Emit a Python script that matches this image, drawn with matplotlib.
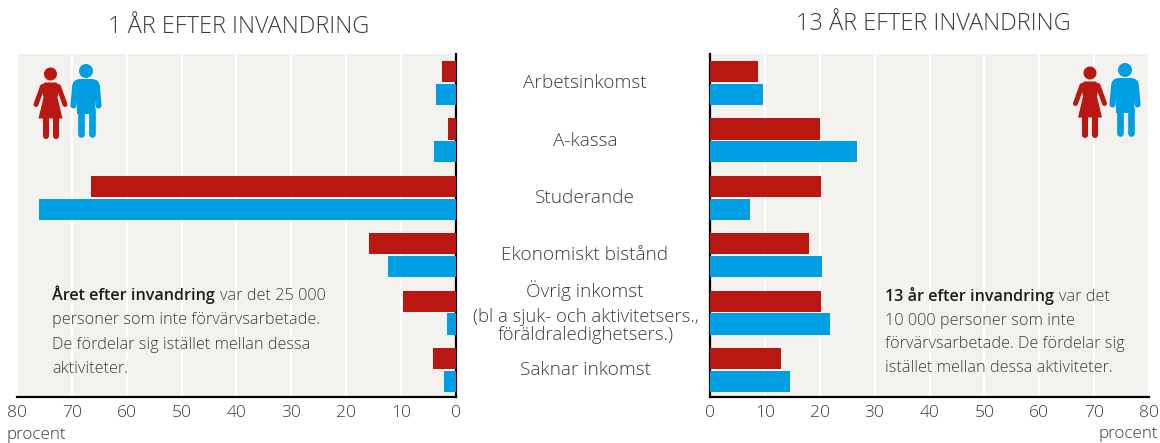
import matplotlib
matplotlib.use('Agg')
import matplotlib.pyplot as plt
from matplotlib.patches import Circle, FancyBboxPatch, Polygon

categories = ['Arbetsinkomst', 'A-kassa', 'Studerande', 'Ekonomiskt bistånd',
              'Övrig inkomst\n(bl a sjuk- och aktivitetsers.,\nföräldraledighetsers.)', 'Saknar inkomst']
women_1 = [2.6, 1.5, 66.5, 15.8, 9.7, 4.2]
men_1 = [3.6, 4.0, 76.0, 12.4, 1.6, 2.2]
women_13 = [8.8, 20.0, 20.2, 18.0, 20.2, 13.0]
men_13 = [9.7, 26.8, 7.3, 20.4, 21.9, 14.6]
ticks = [0, 10, 20, 30, 40, 50, 60, 70, 80]

RED = '#b81712'
BLUE = '#009fe3'
BG = '#f3f2ee'
GREY = '#3c3c3b'

plt.rcParams['font.family'] = ['Open Sans', 'DejaVu Sans']
plt.rcParams['font.weight'] = 'light'
W, H = 1160, 443


def panel(rect, women, men, flip):
    ax = fig.add_axes([rect[0] / W, 1 - rect[3] / H, (rect[2] - rect[0]) / W, (rect[3] - rect[1]) / H])
    ax.set_facecolor(BG)
    ys = range(len(women))
    ax.barh([y - 0.2 for y in ys], women, height=0.37, color=RED, zorder=3)
    ax.barh([y + 0.2 for y in ys], men, height=0.37, color=BLUE, zorder=3)
    ax.set_ylim(5.47, -0.505)
    ax.set_xlim(80, 0) if flip else ax.set_xlim(0, 80)
    ax.set_xticks(ticks)
    ax.set_yticks([])
    ax.grid(axis='x', color='white', lw=1.5, zorder=1)
    ax.tick_params(axis='x', length=0, pad=6, labelsize=12.6, labelcolor=GREY)
    for s in ['top', 'left', 'right']:
        ax.spines[s].set_visible(False)
    ax.spines['bottom'].set_linewidth(1.6)
    side = 'right' if flip else 'left'
    ax.spines[side].set_visible(True)
    ax.spines[side].set_linewidth(1.6)
    return ax


def person_woman(ax, cx, top):
    # ikon, ritad i pixlar
    ax.add_patch(Circle((cx, top + 6.5), 6.5, color=RED, lw=0))
    ax.add_patch(Polygon([(cx - 6, top + 15), (cx + 6, top + 15), (cx + 9, top + 19), (cx + 7, top + 30),
                          (cx + 12, top + 51), (cx - 12, top + 51), (cx - 7, top + 30), (cx - 9, top + 19)],
                         closed=True, color=RED, lw=0))
    for sign in (-1, 1):
        ax.plot([cx + sign * 8, cx + sign * 14.5], [top + 19, top + 37], color=RED, lw=3.6,
                solid_capstyle='round')
        ax.plot([cx + sign * 5, cx + sign * 5], [top + 50, top + 68], color=RED, lw=4.4,
                solid_capstyle='round')


def person_man(ax, cx, top):
    ax.add_patch(Circle((cx, top + 7), 7, color=BLUE, lw=0))
    ax.add_patch(FancyBboxPatch((cx - 14, top + 15), 28, 18, boxstyle='round,pad=0,rounding_size=8.5', color=BLUE, lw=0))
    ax.add_patch(Polygon([(cx - 9, top + 25), (cx + 9, top + 25), (cx + 9, top + 50), (cx - 9, top + 50)],
                         closed=True, color=BLUE, lw=0))
    for sign in (-1, 1):
        ax.plot([cx + sign * 11, cx + sign * 12.5], [top + 24, top + 41.5], color=BLUE, lw=4.4,
                solid_capstyle='round')
        ax.plot([cx + sign * 5.5, cx + sign * 5.5], [top + 45, top + 69.5], color=BLUE, lw=4.8,
                solid_capstyle='round')


def note(ax, x, y, step, bold, first, rest):
    t = ax.text(x, y, bold, fontsize=11.6, fontweight='semibold', color='#1d1d1b', va='baseline')
    ax.annotate(first, xy=(1, 0), xycoords=t, xytext=(3.5, 0), textcoords='offset points',
                fontsize=11.7, color=GREY, va='bottom', ha='left', annotation_clip=False)
    for i, line in enumerate(rest):
        ax.text(x, y + step * (i + 1), line, fontsize=11.7, color=GREY, va='baseline')


fig = plt.figure(figsize=(W / 100, H / 100), dpi=100)
panel((17, 54, 456, 397), women_1, men_1, True)
panel((710, 54, 1149, 397), women_13, men_13, False)

# lager i pixlar for texter och ikoner
over = fig.add_axes([0, 0, 1, 1], zorder=5)
over.set_xlim(0, W)
over.set_ylim(H, 0)
over.axis('off')
over.patch.set_alpha(0)

over.text(239, 27, '1 ÅR EFTER INVANDRING', fontsize=16.9, color=GREY, ha='center', va='center')
over.text(933, 24, '13 ÅR EFTER INVANDRING', fontsize=16.9, color=GREY, ha='center', va='center')
over.text(7, 435, 'procent', fontsize=12.3, color=GREY, ha='left', va='center')
over.text(1158, 434, 'procent', fontsize=12.3, color=GREY, ha='right', va='center')

label_y = [83, 141, 198, 255, 311.5, 370]
for lab, y in zip(categories, label_y):
    if '\n' in lab:
        head, mid, end = lab.split('\n')
        over.text(585, y - 21, head, fontsize=13.7, color=GREY, ha='center', va='center')
        over.text(586, y + 6, mid, fontsize=13.3, color=GREY, ha='center', va='center')
        over.text(586, y + 24, end, fontsize=13.3, color=GREY, ha='center', va='center')
    else:
        over.text(585, y, lab, fontsize=13.7, color=GREY, ha='center', va='center')

note(over, 52, 300, 24.3, 'Året efter invandring', 'var det 25 000',
     ['personer som inte förvärvsarbetade.', 'De fördelar sig istället mellan dessa', 'aktiviteter.'])
note(over, 885, 301, 23.7, '13 år efter invandring', 'var det',
     ['10 000 personer som inte', 'förvärvsarbetade. De fördelar sig', 'istället mellan dessa aktiviteter.'])

person_woman(over, 50.5, 67.5)
person_man(over, 86, 64)
person_woman(over, 1090, 66.5)
person_man(over, 1125, 63)

fig.savefig('out.png', dpi=100)
